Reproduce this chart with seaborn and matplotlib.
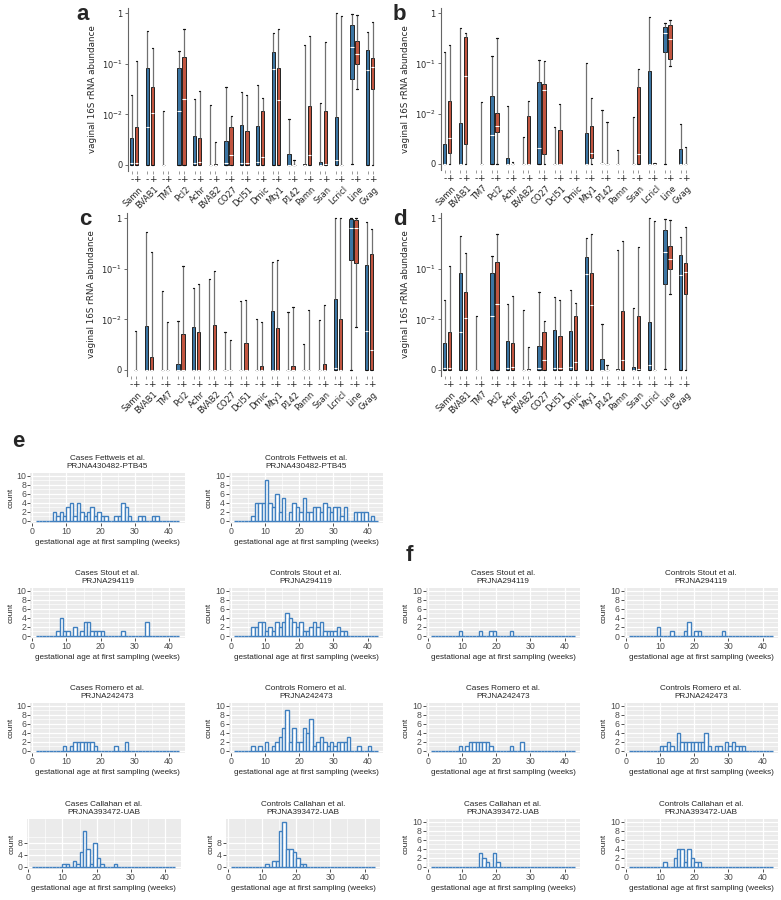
import numpy as np
import pandas as pd
import matplotlib
matplotlib.use("Agg")
import matplotlib.pyplot as plt
import matplotlib.transforms as mtransforms
from matplotlib.ticker import NullLocator, FixedLocator
import seaborn as sns

W, H = 781, 900

BLUE = "#2a77b4"
RED = "#d6472b"
HIST_BLUE = "#4080c0"

taxa = ["Samn", "BVAB1", "TM7", "Pcl2", "Achr", "BVAB2", "CO27", "Dcl51",
        "Dmic", "Mty1", "P142", "Pamn", "Ssan", "Lcricl", "Line", "Gvag"]

# (min, q1, median, q3, max) per taxon, None = nothing detected
a_minus = [(0, 0, 0.0004, 0.0054, 0.024), (0, 0, 0.0074, 0.083, 0.45),
           (0, 0, 0, 0, 0.0115), (0, 0, 0.0117, 0.083, 0.18),
           (0, 0, 0.0004, 0.0057, 0.0205), (0, 0, 0, 0, 0.0156),
           (0, 0, 0.0003, 0.0047, 0.034), (0, 0, 0.0003, 0.0078, 0.0277),
           (0, 0, 0.0005, 0.0077, 0.038), (0, 0, 0.08, 0.173, 0.4),
           (0, 0, 0, 0.0022, 0.0091), (0, 0, 0, 0.0002, 0.23),
           (0, 0, 0, 0.0005, 0.017), (0, 0, 0.001, 0.0095, 1.0),
           (0.0002, 0.05, 0.21, 0.59, 0.97), (0, 0, 0.075, 0.19, 0.43)]
a_plus = [(0, 0, 0.0003, 0.0074, 0.115), (0, 0, 0.0107, 0.034, 0.2),
          None, (0, 0, 0.0205, 0.138, 0.49),
          (0, 0, 0.0005, 0.0053, 0.0288), (0, 0, 0, 0.0002, 0.0045),
          (0, 0, 0.002, 0.0075, 0.0096), (0, 0, 0.0003, 0.0067, 0.0246),
          (0, 0, 0.0015, 0.0117, 0.021), (0, 0, 0.019, 0.084, 0.49),
          (0, 0, 0, 0, 0.0009), (0, 0, 0.002, 0.0145, 0.36),
          (0, 0, 0.0002, 0.0117, 0.27), (0, 0, 0, 0, 0.86),
          (0.031, 0.1, 0.155, 0.28, 0.93), (0, 0.032, 0.087, 0.13, 0.68)]

b_minus = [(0, 0, 0, 0.004, 0.17), (0, 0, 0, 0.0081, 0.5),
           None, (0, 0, 0.0058, 0.022, 0.14),
           (0, 0, 0, 0.0012, 0.0145), (0, 0, 0, 0, 0.0053),
           (0, 0, 0.0032, 0.042, 0.118), (0, 0, 0, 0, 0.0073),
           None, (0, 0, 0, 0.0062, 0.1),
           (0.0002, 0.0002, 0.0002, 0.0002, 0.012), (0, 0, 0, 0, 0.0027),
           (0, 0, 0, 0, 0.0093), (0, 0, 0, 0.071, 0.82),
           (0, 0.165, 0.4, 0.54, 0.63), (0, 0, 0, 0.003, 0.0079)]
b_plus = [(0, 0.0022, 0.0052, 0.018, 0.23), (0, 0.004, 0.056, 0.33, 0.41),
          (0, 0, 0, 0, 0.017), (0, 0.0064, 0.0076, 0.0103, 0.32),
          (0, 0, 0, 0, 0.0003), (0, 0, 0, 0.0095, 0.0176),
          (0, 0.002, 0.03, 0.038, 0.113), (0, 0, 0, 0.0068, 0.0156),
          None, (0, 0.0012, 0.0022, 0.0076, 0.0205),
          (0, 0, 0, 0, 0.0083), None,
          (0, 0, 0.002, 0.034, 0.078), (0, 0, 0, 0.0002, 0.0002),
          (0.087, 0.12, 0.3, 0.58, 0.74), (0, 0, 0, 0, 0.0033)]

c_minus = [None, (0, 0, 0, 0.0086, 0.52),
           (0, 0, 0, 0, 0.037), (0, 0, 0, 0.0012, 0.0097),
           (0, 0, 0, 0.0084, 0.042), (0, 0, 0, 0, 0.062),
           (0, 0, 0, 0, 0.0074), (0, 0, 0, 0, 0.0235),
           (0, 0, 0, 0, 0.01), (0, 0, 0, 0.0147, 0.134),
           (0, 0, 0, 0, 0.0142), (0, 0, 0, 0, 0.0051),
           (0, 0, 0, 0, 0.0098), (0, 0, 0.0003, 0.025, 1.0),
           (0, 0.15, 0.63, 0.98, 1.0), (0, 0, 0.0077, 0.117, 0.83)]
c_plus = [(0, 0, 0, 0, 0.0076), (0, 0, 0, 0.0025, 0.21),
          (0, 0, 0, 0, 0.0094), (0, 0, 0, 0.007, 0.115),
          (0, 0, 0, 0.0074, 0.05), (0, 0, 0, 0.0088, 0.092),
          (0, 0, 0, 0, 0.006), (0, 0, 0, 0.0054, 0.024),
          (0, 0, 0, 0.0007, 0.0095), (0, 0, 0, 0.0083, 0.15),
          (0, 0, 0, 0.0008, 0.0173), (0, 0, 0, 0, 0.015),
          (0, 0, 0, 0.0012, 0.0193), (0, 0, 0, 0.01, 1.0),
          (0.0084, 0.128, 0.63, 0.9, 1.0), (0, 0, 0.004, 0.194, 0.6)]

# panel d shows the same values as panel a
d_minus = list(a_minus)
d_plus = list(a_plus)

# gestational week -> number of subjects
e_fett_cases = {6: 2, 7: 1, 8: 2, 9: 1, 10: 3, 11: 4, 12: 1, 13: 4, 14: 2, 15: 1,
                16: 2, 17: 3, 18: 1, 19: 2, 20: 1, 21: 1, 24: 1, 25: 1, 26: 4,
                27: 3, 28: 1, 31: 1, 32: 1, 35: 1, 36: 1}
e_fett_controls = {6: 1, 7: 4, 8: 4, 9: 4, 10: 9, 11: 4, 12: 3, 13: 6, 14: 2, 15: 5,
                   17: 2, 18: 4, 19: 3, 20: 2, 21: 5, 22: 2, 23: 2, 24: 3, 25: 3,
                   26: 2, 27: 4, 28: 3, 29: 2, 30: 3, 31: 3, 32: 1, 33: 3, 36: 2,
                   37: 2, 38: 2, 39: 2, 41: 1}
e_stout_cases = {7: 1, 8: 4, 9: 1, 10: 1, 12: 2, 14: 1, 15: 3, 16: 3, 17: 1, 18: 1,
                 19: 1, 20: 1, 26: 1, 33: 3}
e_stout_controls = {6: 2, 7: 2, 8: 3, 9: 3, 10: 1, 11: 2, 12: 1, 13: 3, 14: 2, 15: 3,
                    16: 5, 17: 4, 18: 3, 19: 2, 20: 3, 21: 1, 22: 1, 23: 2, 24: 3,
                    25: 2, 26: 3, 27: 1, 28: 1, 29: 1, 30: 1, 31: 2, 32: 1, 33: 1}
e_romero_cases = {9: 1, 11: 1, 12: 2, 13: 2, 14: 2, 15: 2, 16: 2, 17: 2, 18: 1,
                  24: 1, 27: 2}
e_romero_controls = {6: 1, 8: 1, 10: 2, 12: 1, 13: 2, 14: 3, 15: 5, 16: 9, 17: 2,
                     18: 5, 19: 2, 20: 2, 21: 5, 22: 4, 23: 7, 24: 1, 25: 2, 26: 3,
                     27: 2, 28: 1, 29: 2, 30: 1, 31: 2, 32: 2, 33: 2, 34: 3, 37: 1,
                     40: 1}
e_callahan_cases = {10: 1, 11: 1, 13: 2, 14: 1, 15: 5, 16: 12, 17: 6, 18: 1, 19: 8,
                    20: 3, 21: 1, 25: 1}
e_callahan_controls = {11: 1, 13: 2, 14: 2, 15: 12, 16: 15, 17: 6, 18: 6, 19: 5,
                       20: 3, 21: 1, 22: 1}

f_stout_cases = {9: 1, 15: 1, 18: 1, 19: 1, 24: 1}
f_stout_controls = {9: 2, 13: 1, 17: 1, 18: 3, 20: 1, 21: 1, 28: 1}
f_romero_cases = dict(e_romero_cases)
f_romero_controls = {10: 1, 11: 1, 12: 2, 13: 1, 15: 4, 16: 2, 17: 2, 18: 2, 19: 2,
                     20: 2, 21: 2, 22: 2, 23: 4, 24: 1, 26: 1, 27: 1, 29: 2, 30: 1,
                     31: 2, 32: 1, 33: 1, 34: 1}
f_callahan_cases = {15: 3, 16: 2, 17: 1, 19: 3, 20: 1}
f_callahan_controls = {11: 1, 14: 2, 15: 4, 16: 4, 17: 1, 18: 4, 19: 2, 20: 1, 21: 1}

titles = {
    "fett": ("Fettweis et al.", "PRJNA430482-PTB45"),
    "stout": ("Stout et al.", "PRJNA294119"),
    "romero": ("Romero et al.", "PRJNA242473"),
    "callahan": ("Callahan et al.", "PRJNA393472-UAB"),
}

sns.set_style("ticks")
plt.rcParams["font.family"] = ["DejaVu Sans"]

fig = plt.figure(figsize=(W / 100, H / 100), dpi=100)


def px_axes(left, top, width, height):
    return fig.add_axes([left / W, 1 - (top + height) / H, width / W, height / H])


def box_frame(minus, plus):
    rows = []
    for taxon, m, p in zip(taxa, minus, plus):
        for grp, stats in (("-", m), ("+", p)):
            if stats is None:
                continue
            for v in stats:
                rows.append((taxon, grp, v))
    return pd.DataFrame(rows, columns=["taxon", "group", "abundance"])


def draw_boxes(ax, minus, plus):
    ax.set_yscale("symlog", linthresh=0.01, linscale=0.9)
    df = box_frame(minus, plus)
    sns.boxplot(data=df, x="taxon", y="abundance", hue="group", order=taxa,
                hue_order=["-", "+"], palette={"-": BLUE, "+": RED},
                whis=(0, 100), width=0.64, gap=0.34, fliersize=0,
                linecolor="#222222", linewidth=0.7, legend=False, ax=ax,
                capwidths=0.08,
                medianprops=dict(color="white", linewidth=0.8),
                whiskerprops=dict(color="#707070", linewidth=0.9),
                capprops=dict(color="#111111", linewidth=0.9))
    ax.set_xlim(-0.4, 15.5)
    ax.set_ylim(-0.0012, 1.26)
    ax.set_yticks([0, 0.01, 0.1, 1], ["0", r"$10^{-2}$", r"$10^{-1}$", "1"], fontsize=6)
    ax.yaxis.set_minor_locator(NullLocator())
    ax.set_ylabel("vaginal 16S rRNA abundance", fontsize=6.3, labelpad=3)
    pos = [i + d for i in range(len(taxa)) for d in (-0.16, 0.16)]
    ax.set_xticks(pos, ["-", "+"] * len(taxa), fontsize=6.5)
    ax.xaxis.set_minor_locator(NullLocator())
    ax.set_xlabel("")
    ax.tick_params(axis="x", length=2.5, width=0.6, color="#888888", pad=0.5)
    ax.tick_params(axis="y", length=2.5, width=0.6, color="#555555", pad=1.5)
    sns.despine(ax=ax, bottom=True)
    ax.spines["left"].set_color("#666666")
    ax.spines["left"].set_linewidth(0.8)
    trans = mtransforms.blended_transform_factory(ax.transData, ax.transAxes)
    for i, t in enumerate(taxa):
        ax.text(i + 0.25, -0.085, t, transform=trans, rotation=45, ha="right",
                va="top", rotation_mode="anchor", fontsize=6)


box_panels = [
    ("a", 128, 8, 163, a_minus, a_plus, (76, 4)),
    ("b", 441, 8, 162, b_minus, b_plus, (393, 4)),
    ("c", 127, 213, 163, c_minus, c_plus, (79, 209)),
    ("d", 441, 213, 163, d_minus, d_plus, (393, 209)),
]
for letter, left, top, h, minus, plus, (lx, ly) in box_panels:
    ax = px_axes(left, top, 250, h)
    draw_boxes(ax, minus, plus)
    fig.text(lx / W, 1 - ly / H, letter, fontsize=16, fontweight="bold",
             family="Liberation Sans", ha="left", va="top")

HFONT = "Liberation Sans"


def draw_hist(ax, counts, title, ymax=10, yticks=(0, 2, 4, 6, 8, 10), yminor=(1, 3, 5, 7, 9)):
    ages = np.repeat(list(counts.keys()), list(counts.values()))
    sns.histplot(x=ages, bins=np.arange(1, 44), ax=ax, color=HIST_BLUE, linewidth=1.0)
    for p in ax.patches:
        p.set_facecolor("white")
        p.set_edgecolor(HIST_BLUE)
        p.set_linewidth(1.0)
    ax.set_facecolor("#EBEBEB")
    ax.set_xlim(-0.5, 44.5)
    ax.set_ylim(-0.05 * ymax, 1.05 * ymax)
    ax.set_xticks([0, 10, 20, 30, 40], ["0", "10", "20", "30", "40"],
                  fontsize=6.3, color="#4D4D4D", family=HFONT)
    ax.set_yticks(list(yticks), [str(v) for v in yticks],
                  fontsize=6.3, color="#4D4D4D", family=HFONT)
    ax.xaxis.set_minor_locator(FixedLocator([5, 15, 25, 35]))
    ax.yaxis.set_minor_locator(FixedLocator(list(yminor)))
    ax.grid(which="major", color="white", linewidth=0.9)
    ax.grid(which="minor", color="white", linewidth=0.45)
    ax.set_axisbelow(True)
    ax.tick_params(which="major", length=2, width=0.6, color="#333333", pad=1)
    ax.tick_params(which="minor", length=0)
    for s in ax.spines.values():
        s.set_visible(False)
    ax.set_xlabel("gestational age at first sampling (weeks)", fontsize=5.9,
                  family=HFONT, labelpad=1.5)
    ax.set_ylabel("count", fontsize=5.9, family=HFONT, labelpad=1.5)
    ax.set_title(title, fontsize=5.9, family=HFONT, pad=4, linespacing=1.15)


zero_rows = [521, 636, 751, 867]
PX = 4.55


def hist_axes(left, zero_y):
    top = zero_y - 10.5 * PX
    return px_axes(left, top, 154, 11 * PX)


hist_panels = [
    # (left, row, counts, group, study)
    (30.5, 0, e_fett_cases, "Cases", "fett"),
    (229, 0, e_fett_controls, "Controls", "fett"),
    (30.5, 1, e_stout_cases, "Cases", "stout"),
    (229, 1, e_stout_controls, "Controls", "stout"),
    (30.5, 2, e_romero_cases, "Cases", "romero"),
    (229, 2, e_romero_controls, "Controls", "romero"),
    (426, 1, f_stout_cases, "Cases", "stout"),
    (624, 1, f_stout_controls, "Controls", "stout"),
    (426, 2, f_romero_cases, "Cases", "romero"),
    (624, 2, f_romero_controls, "Controls", "romero"),
    (426, 3, f_callahan_cases, "Cases", "callahan"),
    (624, 3, f_callahan_controls, "Controls", "callahan"),
]
for left, row, counts, grp, study in hist_panels:
    ax = hist_axes(left, zero_rows[row])
    name, proj = titles[study]
    draw_hist(ax, counts, f"{grp} {name}\n{proj}")

# callahan panels in e use their own y range
for left, counts, grp in [(26.5, e_callahan_cases, "Cases"),
                          (226, e_callahan_controls, "Controls")]:
    ax = hist_axes(left, zero_rows[3])
    name, proj = titles["callahan"]
    draw_hist(ax, counts, f"{grp} {name}\n{proj}", ymax=15,
              yticks=(0, 4, 8), yminor=(2, 6, 10))

fig.text(12 / W, 1 - 431 / H, "e", fontsize=16, fontweight="bold",
         family="Liberation Sans", ha="left", va="top")
fig.text(406 / W, 1 - 545 / H, "f", fontsize=16, fontweight="bold",
         family="Liberation Sans", ha="left", va="top")

fig.savefig("out.png", dpi=100)
